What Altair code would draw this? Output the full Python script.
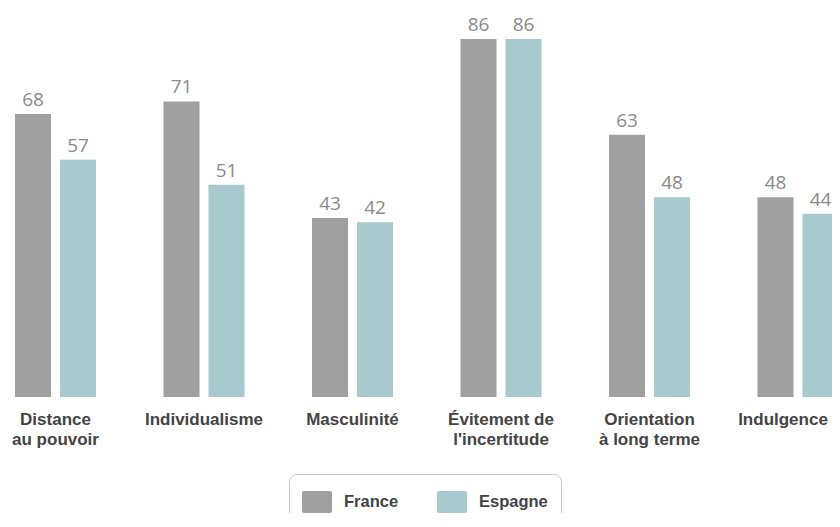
import altair as alt
import pandas as pd

categories = ["Distance\nau pouvoir", "Individualisme", "Masculinité",
              "Évitement de\nl'incertitude", "Orientation\nà long terme", "Indulgence"]
france = [68, 71, 43, 86, 63, 48]
espagne = [57, 51, 42, 86, 48, 44]
countries = ["France", "Espagne"]
colors = ["#a0a0a0", "#a8c9ce"]

rows = []
for c, f, e in zip(categories, france, espagne):
    rows.append({"cat": c, "pays": "France", "val": f})
    rows.append({"cat": c, "pays": "Espagne", "val": e})
df = pd.DataFrame(rows)

x = alt.X("cat:N", sort=categories, title=None,
          scale=alt.Scale(range=[-26.75, 864.25], paddingInner=0, paddingOuter=0),
          axis=alt.Axis(labelAngle=0, domain=False, ticks=False, labelPadding=14,
                        labelFont="Liberation Sans", labelFontWeight="bold",
                        labelFontSize=17, labelColor="#444444", labelLineHeight=20,
                        labelExpr="split(datum.label, '\\n')", labelLimit=250,
                        labelOffset={"condition": {"test": "datum.value == 'Indulgence'",
                                                   "value": -15}, "value": 0}))
xo = alt.XOffset("pays:N", sort=countries,
                 scale=alt.Scale(paddingInner=0.2, paddingOuter=0.75))
y = alt.Y("val:Q", scale=alt.Scale(domain=[0, 93.44], nice=False), axis=None)

base = alt.Chart(df).encode(x=x, xOffset=xo, y=y)

rounded_rect = ("M-0.85,-0.73 H0.85 Q1,-0.73 1,-0.58 V0.58 Q1,0.73 0.85,0.73 "
                "H-0.85 Q-1,0.73 -1,0.58 V-0.58 Q-1,-0.73 -0.85,-0.73 Z")

bars = base.mark_bar().encode(
    color=alt.Color("pays:N", sort=countries,
                    scale=alt.Scale(domain=countries, range=colors),
                    legend=alt.Legend(title=None, orient="none", direction="horizontal",
                                      legendX=281, legendY=466,
                                      strokeColor="#c8c8c8", cornerRadius=8,
                                      padding=13, symbolType=rounded_rect, symbolSize=900,
                                      symbolStrokeWidth=0, symbolOpacity=1,
                                      labelFont="Liberation Sans", labelFontWeight="bold",
                                      labelFontSize=16.5, labelColor="#444444",
                                      labelOffset=12, columnPadding=38))
)

labels = base.mark_text(baseline="alphabetic", dy=-8, font="Open Sans",
                        fontSize=19, color="#8a8a8a").encode(text="val:Q")

chart = alt.layer(bars, labels).properties(
    width=824, height=389,
    autosize=alt.AutoSizeParams(type="none"),
    padding={"left": 0, "top": 0, "right": 0, "bottom": 116},
).configure_view(strokeWidth=0)

chart.save("out.html", embed_options={"renderer": "svg", "actions": False})
